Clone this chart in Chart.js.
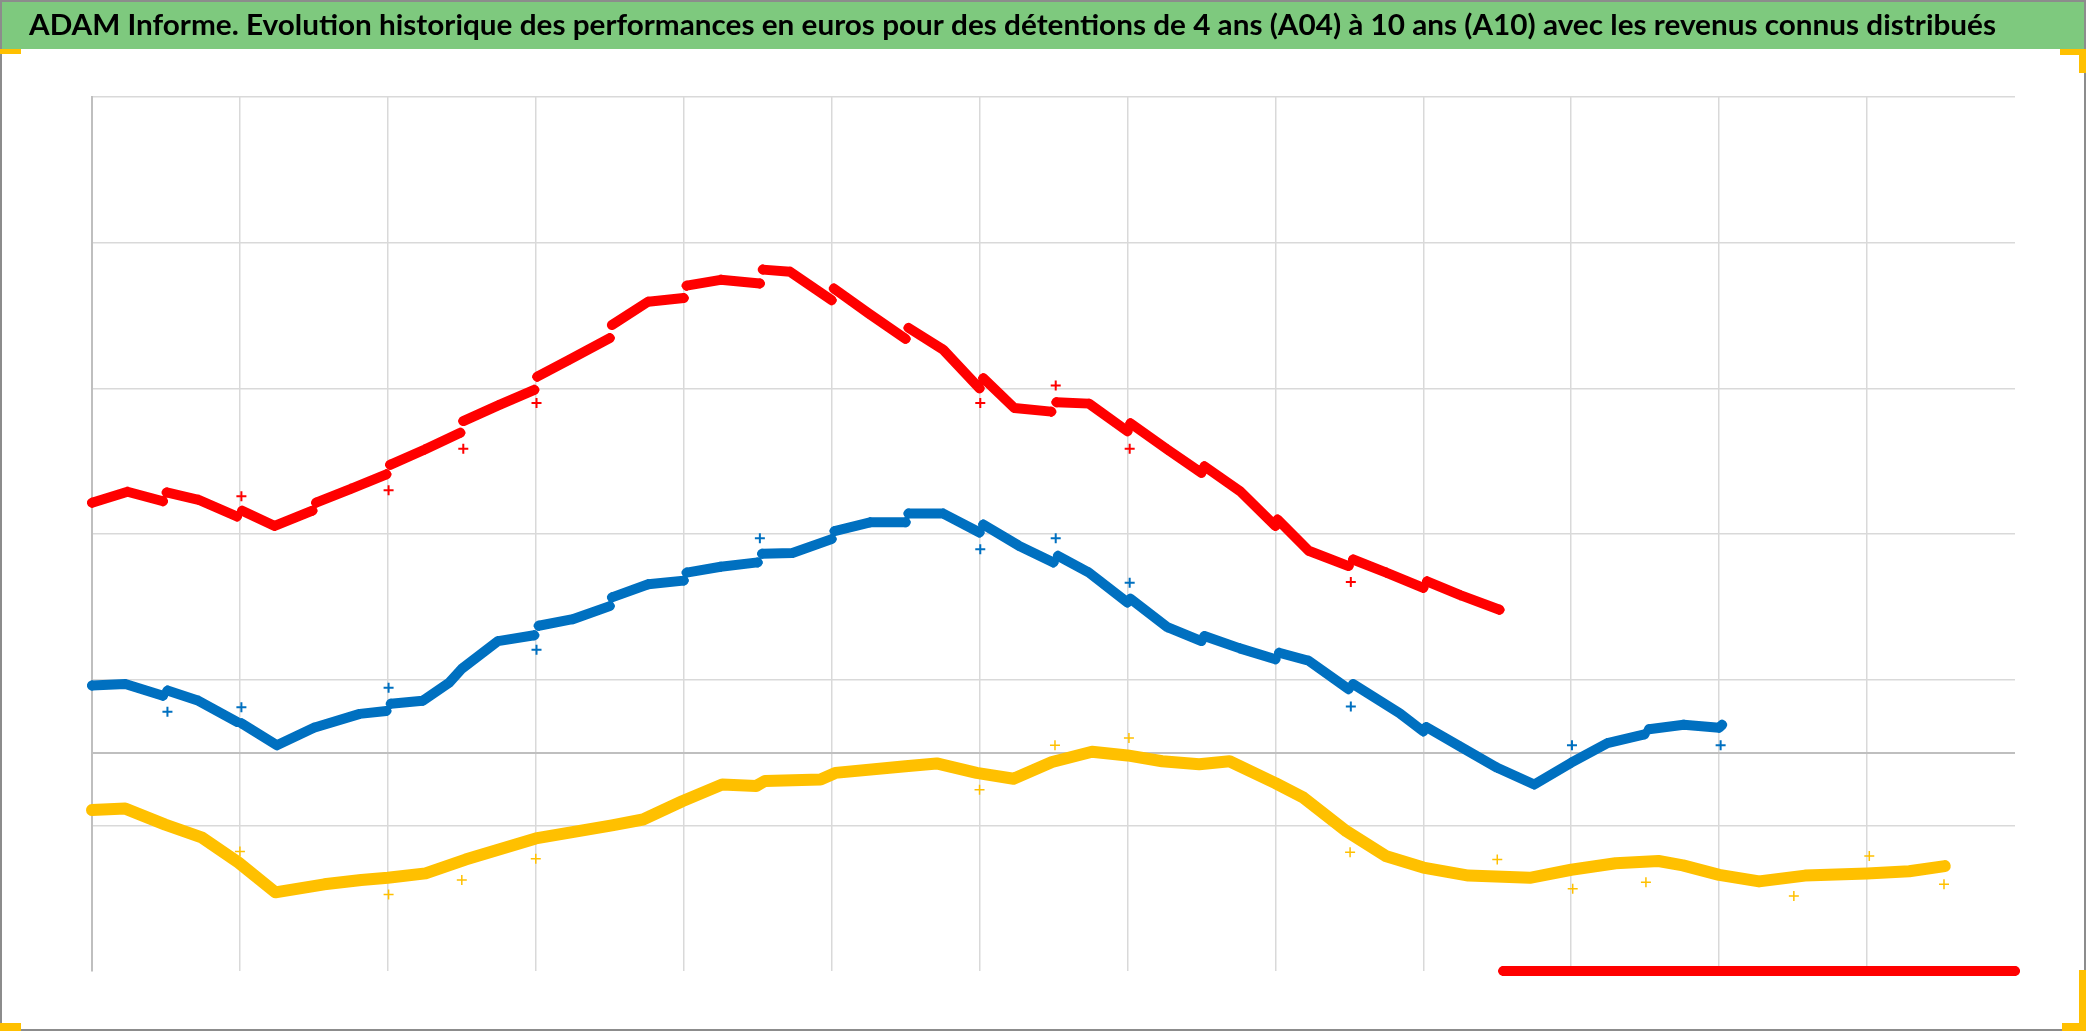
<!DOCTYPE html>
<html>
<head>
<meta charset="utf-8">
<script src="https://cdn.jsdelivr.net/npm/chart.js@4/dist/chart.umd.min.js"></script>
<style>
  html, body { margin: 0; padding: 0; background: #fff; }
  #wrap { width: 2086px; height: 1031px; }
</style>
</head>
<body>
<div id="wrap"><canvas id="perf-chart"></canvas></div>
<script>
const titleText = 'ADAM Informe. Evolution historique des performances en euros pour des détentions de 4 ans (A04) à 10 ans (A10) avec les revenus connus distribués';

// x = year, y = value (null splits the trace where it jumps)
const redX = [1992.0, 1992.48, 1992.96, 1992.96, 1993.01, 1993.44, 1993.96, 1993.96, 1994.03, 1994.47, 1994.98, 1994.98,
  1995.03, 1995.5, 1995.98, 1995.98, 1996.03, 1996.5, 1996.98, 1996.98, 1997.02, 1997.5, 1997.98, 1997.98,
  1998.02, 1998.45, 1999.0, 1999.0, 1999.03, 1999.52, 2000.0, 2000.0, 2000.04, 2000.5, 2001.03, 2001.03,
  2001.07, 2001.44, 2002.0, 2002.0, 2002.03, 2002.5, 2003.0, 2003.0, 2003.04, 2003.51, 2004.0, 2004.0,
  2004.05, 2004.47, 2004.97, 2004.97, 2005.04, 2005.48, 2006.0, 2006.0, 2006.04, 2006.54, 2007.0, 2007.0,
  2007.04, 2007.52, 2008.0, 2008.0, 2008.03, 2008.45, 2008.99, 2008.99, 2009.05, 2009.5, 2010.0, 2010.0,
  2010.05, 2010.5, 2011.03];
const redY = [343, 358, 345, null, 357, 347, 324, null, 332, 311, 332, null,
  343, 362, 382, null, 395, 416, 439, null, 455, 477, 498, null,
  516, 539, 569, null, 587, 619, 624, null, 641, 649, 644, null,
  663, 660, 621, null, 637, 603, 568, null, 583, 553, 500, null,
  514, 473, 468, null, 481, 479, 441, null, 452, 416, 384, null,
  393, 359, 311, null, 320, 277, 256, null, 265, 247, 226, null,
  235, 216, 196];

const blueX = [1992.0, 1992.45, 1992.96, 1992.96, 1993.02, 1993.44, 1993.96, 1993.96, 1994.02, 1994.5, 1995.0,
  1995.62, 1995.98, 1995.98, 1996.04, 1996.47, 1996.83, 1997.0, 1997.49, 1997.98, 1997.98,
  1998.04, 1998.5, 1999.0, 1999.0, 1999.03, 1999.52, 2000.0, 2000.0, 2000.04, 2000.5, 2001.0, 2001.0,
  2001.06, 2001.47, 2002.0, 2002.0, 2002.04, 2002.52, 2003.0, 2003.0, 2003.04, 2003.51, 2004.0, 2004.0,
  2004.05, 2004.53, 2005.0, 2005.0, 2005.06, 2005.48, 2006.0, 2006.0, 2006.04, 2006.54, 2007.0, 2007.0,
  2007.04, 2007.52, 2008.0, 2008.0, 2008.05, 2008.45, 2008.99, 2008.99, 2009.05, 2009.68, 2010.0, 2010.0,
  2010.04, 2010.5, 2011.0, 2011.5, 2012.0, 2012.49, 2012.99, 2012.99, 2013.05, 2013.52, 2014.0, 2014.04];
const blueY = [92, 94, 78, null, 85, 71, 42, null, 40, 10, 34,
  53, 57, null, 67, 71, 96, 115, 153, 161, null,
  174, 183, 201, null, 213, 231, 236, null, 247, 255, 261, null,
  273, 274, 293, null, 304, 316, 316, null, 328, 328, 302, null,
  313, 284, 261, null, 270, 247, 206, null, 211, 172, 153, null,
  160, 143, 128, null, 137, 126, 87, null, 94, 54, 29, null,
  35, 8, -21, -44, -14, 13, 25, null, 32, 38, 34, 38];

const yellowX = [1992.0, 1992.45, 1992.99, 1993.49, 1993.98, 1994.48, 1995.14, 1995.64, 1996.0, 1996.51, 1997.05,
  1998.0, 1999.03, 1999.45, 1999.98, 2000.52, 2000.98, 2001.1, 2001.85, 2002.05, 2003.0, 2003.42, 2003.96,
  2004.46, 2004.98, 2005.52, 2006.0, 2006.47, 2006.97, 2007.38, 2008.0, 2008.38, 2008.96, 2009.49, 2010.0,
  2010.61, 2011.44, 2012.0, 2012.6, 2013.18, 2013.51, 2014.0, 2014.54, 2015.16, 2016.0, 2016.57, 2017.05];
const yellowY = [-79, -77, -99, -117, -151, -192, -181, -175, -172, -166, -147,
  -118, -100, -92, -67, -44, -46, -39, -37, -28, -19, -15, -28,
  -36, -13, 1, -4, -12, -16, -12, -42, -62, -108, -142, -158,
  -169, -172, -161, -152, -149, -155, -168, -177, -169, -166, -163, -156];

// isolated points on distribution dates
const redDivX = [1994.02, 1996.01, 1997.02, 1998.01, 2004.01, 2005.03, 2006.03, 2009.02];
const redDivY = [352, 360, 417, 480, 480, 504, 417, 234];
const blueDivX = [1993.02, 1994.02, 1996.01, 1998.01, 2001.03, 2004.01, 2005.03, 2006.03, 2009.02, 2012.01, 2014.02];
const blueDivY = [56, 62, 89, 141, 294, 279, 294, 233, 63, 10, 10];
const yellowDivX = [1994.0, 1996.01, 1997.0, 1998.0, 2004.0, 2005.02, 2006.02, 2009.01, 2011.0, 2012.02, 2013.01, 2015.01, 2016.03, 2017.04];
const yellowDivY = [-136, -195, -175, -146, -51, 10, 20, -137, -147, -187, -178, -197, -142, -181];

// flat red trace sitting on the bottom of the plot
const baseX = [2011.08, 2012, 2013, 2014, 2015, 2016, 2017, 2018];
const baseY = [-300, -300, -300, -300, -300, -300, -300, -300];

const xTicks = [1992, 1994, 1996, 1998, 2000, 2002, 2004, 2006, 2008, 2010, 2012, 2014, 2016, 2018];
const yTicks = [-300, -100, 0, 100, 300, 500, 700, 900];

const red = '#ff0000';
const blue = '#0070c0';
const yellow = '#ffc000';
const titleGreen = '#7ec97e';

function toPoints(xs, ys) {
    return xs.map((x, i) => ({ x: x, y: ys[i] }))
}

function trace(label, xs, ys, color, width) {
    return {
        label: label,
        data: toPoints(xs, ys),
        showLine: true,
        spanGaps: false,
        borderColor: color,
        backgroundColor: color,
        borderWidth: width,
        borderJoinStyle: 'round',
        borderCapStyle: 'round',
        pointStyle: 'cross',
        pointRadius: 5,
        pointBorderWidth: 2.5,
        pointBorderColor: color,
        tension: 0,
        clip: false
    }
}

function dots(label, xs, ys, color, lw) {
    return {
        label: label,
        data: toPoints(xs, ys),
        showLine: false,
        pointStyle: 'cross',
        pointRadius: 5,
        pointBorderWidth: lw,
        pointBorderColor: color,
        backgroundColor: color,
        clip: false
    }
}

// green heading band, outer frame and the yellow corner marks
const framePlugin = {
    id: 'frame',
    beforeDraw(chart) {
        const ctx = chart.ctx
        const w = chart.width
        ctx.save()
        ctx.fillStyle = '#ffffff'
        ctx.fillRect(0, 0, w, chart.height)
        ctx.fillStyle = titleGreen
        ctx.fillRect(0, 0, w, 49)
        ctx.font = 'bold 29px Lato'
        const tw = ctx.measureText(titleText).width
        ctx.translate(29, 35)
        ctx.scale(1967 / tw, 1)
        ctx.fillStyle = '#000000'
        ctx.textBaseline = 'alphabetic'
        ctx.fillText(titleText, 0, 0)
        ctx.restore()
    },
    afterDraw(chart) {
        const ctx = chart.ctx
        const w = chart.width, h = chart.height
        ctx.save()
        ctx.strokeStyle = '#8c8c8c'
        ctx.lineWidth = 2
        ctx.strokeRect(1, 1, w - 2, h - 2)
        ctx.fillStyle = yellow
        ctx.fillRect(0, 49, 21, 5)
        ctx.fillRect(w - 26, 49, 26, 6)
        ctx.fillRect(w - 7, 49, 7, 24)
        ctx.fillRect(0, h - 8, 21, 8)
        ctx.fillRect(w - 7, h - 61, 7, 61)
        ctx.fillRect(w - 24, h - 8, 24, 8)
        ctx.restore()
    }
};

new Chart(document.getElementById('perf-chart'), {
    type: 'scatter',
    data: {
        datasets: [
            dots('A04 revenus', yellowDivX, yellowDivY, yellow, 1.5),
            trace('A04', yellowX, yellowY, yellow, 12),
            dots('A07 revenus', blueDivX, blueDivY, blue, 2),
            trace('A07', blueX, blueY, blue, 10),
            dots('A10 revenus', redDivX, redDivY, red, 2),
            trace('A10', redX, redY, red, 10),
            trace('base', baseX, baseY, red, 10)
        ]
    },
    options: {
        responsive: true,
        maintainAspectRatio: false,
        animation: false,
        devicePixelRatio: 1,
        layout: {
            padding: { top: 97, left: 92, right: 71, bottom: 60 }
        },
        plugins: {
            legend: { display: false },
            title: { display: false },
            tooltip: { enabled: false }
        },
        scales: {
            x: {
                type: 'linear',
                min: 1992,
                max: 2018,
                afterBuildTicks: (scale) => { scale.ticks = xTicks.map(v => ({ value: v })) },
                ticks: { display: false },
                border: { display: false },
                grid: {
                    drawTicks: false,
                    lineWidth: 1.5,
                    color: (c) => c.tick && c.tick.value === 2018 ? 'rgba(0,0,0,0)' : '#d9d9d9'
                }
            },
            y: {
                min: -300,
                max: 900,
                afterBuildTicks: (scale) => { scale.ticks = yTicks.map(v => ({ value: v })) },
                ticks: { display: false },
                border: { display: true, color: '#bfbfbf', width: 2 },
                grid: {
                    drawTicks: false,
                    lineWidth: (c) => c.tick && c.tick.value === 0 ? 2 : 1.5,
                    color: (c) => {
                        if (!c.tick) return '#d9d9d9'
                        if (c.tick.value === -300) return 'rgba(0,0,0,0)'
                        if (c.tick.value === 0) return '#bfbfbf'
                        return '#d9d9d9'
                    }
                }
            }
        }
    },
    plugins: [framePlugin]
});
</script>
</body>
</html>
